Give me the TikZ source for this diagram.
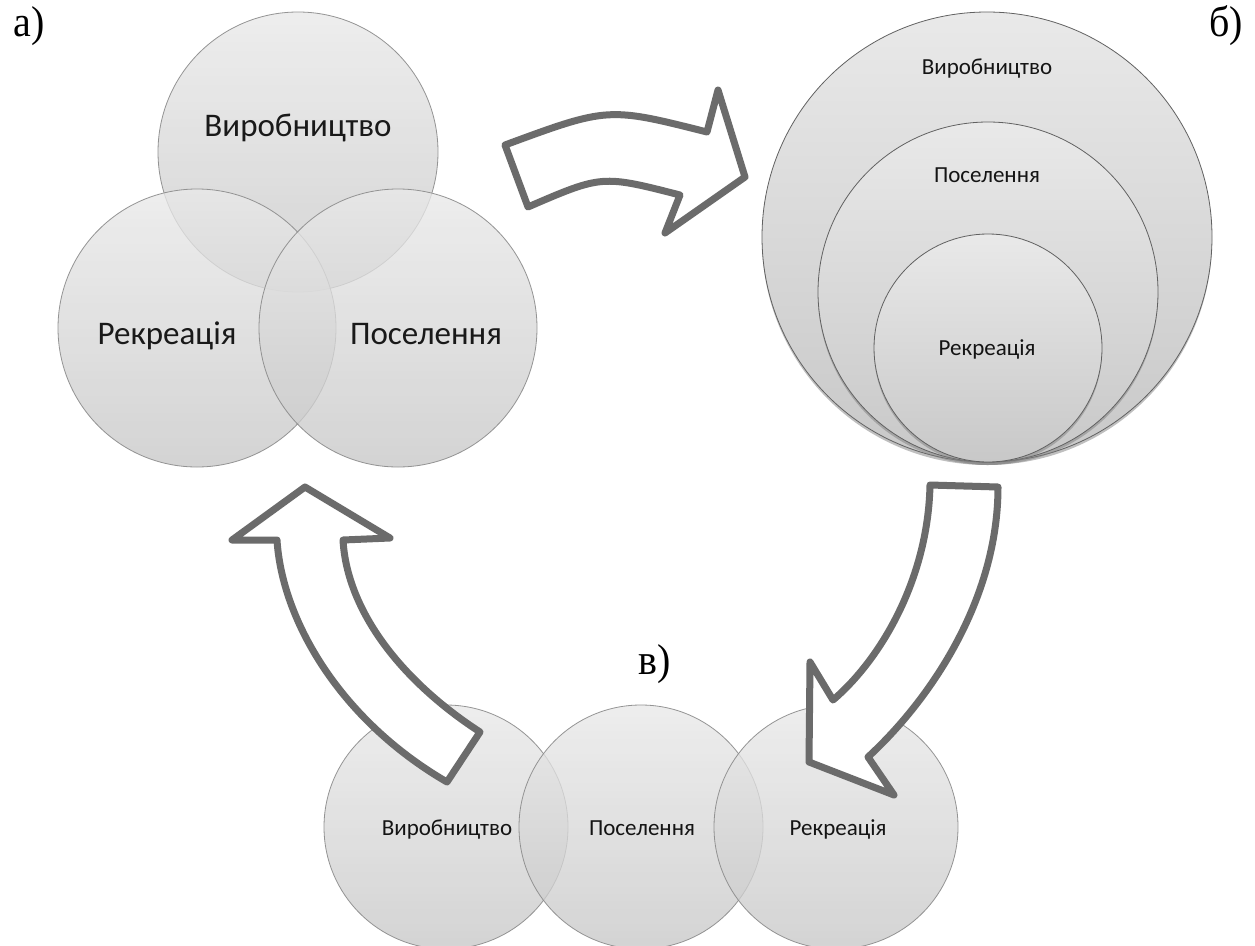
\documentclass[tikz,border=0pt]{standalone}
\usepackage{fontspec}
\setmainfont{Liberation Serif}
\newfontfamily\carlito{Carlito}
\usetikzlibrary{shadows}
\definecolor{circtop}{HTML}{E9E9E9}
\definecolor{circbot}{HTML}{C8C8C8}
\definecolor{circline}{HTML}{8A8A8A}
\definecolor{arrline}{HTML}{6B6B6B}
\begin{document}
\begin{tikzpicture}[x=1pt,y=-1pt,
  vennc/.style={circle, inner sep=0pt, outer sep=0pt, draw=circline, line width=0.8pt,
    top color=circtop, bottom color=circbot, fill opacity=0.78, draw opacity=0.9},
  nestc/.style={circle, inner sep=0pt, outer sep=0pt, draw=circline!70!black, line width=0.8pt,
    top color=circtop, bottom color=circbot,
    drop shadow={opacity=0.5, shadow xshift=0pt, shadow yshift=-3pt}},
  bigtxt/.style={font=\carlito\fontsize{33}{38}\selectfont, text=black!90,
    text height=0.64em, text depth=0.2em, inner sep=0pt},
  smalltxt/.style={font=\carlito\fontsize{23}{27}\selectfont, text=black!92,
    text height=0.64em, text depth=0.2em, inner sep=0pt},
  panel/.style={font=\fontsize{40}{46}\selectfont, yscale=1.08},
  blockarrow/.style={draw=arrline, line width=7pt, fill=white, line join=round,
    drop shadow={opacity=0.2, shadow xshift=1pt, shadow yshift=-2pt}}
]
\clip (0,0) rectangle (1255,945);
\fill[white] (0,0) rectangle (1255,945);

% ---- panel a) : Venn diagram
\node[vennc, minimum size=280pt] (aV) at (298,152) {};
\node[vennc, minimum size=278pt] (aR) at (197,328) {};
\node[vennc, minimum size=278pt] (aP) at (398,328) {};
\node[bigtxt] (taV) at (298,134) {Виробництво};
\node[bigtxt] (taR) at (167,342) {Рекреація};
\node[bigtxt] (taP) at (426,342) {Поселення};

% ---- panel б) : nested circles
\node[nestc, minimum size=450pt] (bV) at (987,237) {};
\node[nestc, minimum size=340pt] (bP) at (988,292) {};
\node[nestc, minimum size=228pt] (bR) at (988,348) {};
\node[smalltxt] (tbV) at (987,72) {Виробництво};
\node[smalltxt] (tbP) at (987,180) {Поселення};
\node[smalltxt] (tbR) at (987,353) {Рекреація};

% ---- panel в) : chain of circles
\node[vennc, minimum size=244pt] (cV) at (446,827) {};
\node[vennc, minimum size=244pt] (cP) at (641,827) {};
\node[vennc, minimum size=244pt] (cR) at (836,827) {};
\node[smalltxt] (tcV) at (447,833) {Виробництво};
\node[smalltxt] (tcP) at (642,833) {Поселення};
\node[smalltxt] (tcR) at (838,833) {Рекреація};

% ---- panel labels
\node[panel] (la) at (29,26) {а)};
\node[panel] (lb) at (1226,26) {б)};
\node[panel] (lc) at (655,664) {в)};

% ---- block arrows
\draw[blockarrow] (505,145) .. controls (608,107) .. (707,132) -- (718,90) -- (745,177)
  -- (665,233) -- (680,195) .. controls (602,175) .. (528,207) -- cycle;
\draw[blockarrow] (930,485) -- (998,487) .. controls (998,600) and (930,700) .. (868,757)
  -- (894,795) -- (809,762) -- (810,662) -- (833,700)
  .. controls (880,660) and (928,580) .. (930,485) -- cycle;
\draw[blockarrow] (447,782) .. controls (340,720) and (282,620) .. (277,540) -- (232,540)
  -- (305,487) -- (390,538) -- (343,540) .. controls (347,610) and (400,680) .. (480,732) -- cycle;
\end{tikzpicture}
\end{document}
